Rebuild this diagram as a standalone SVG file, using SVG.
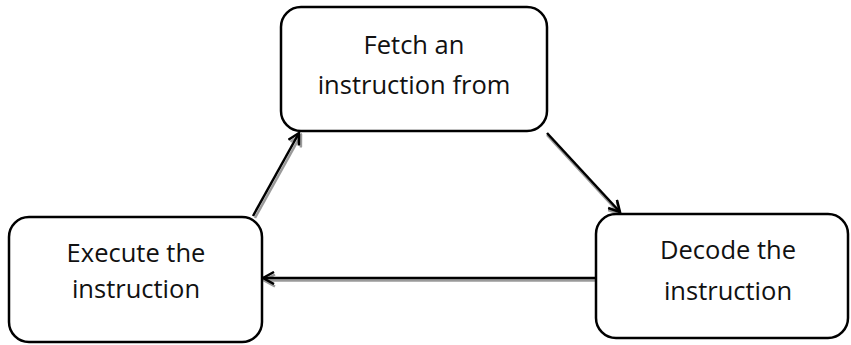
<svg xmlns="http://www.w3.org/2000/svg" width="851" height="345" viewBox="0 0 851 345">
<style>
.box{fill:#fff;stroke:#000;stroke-width:2.5}
.lbl{font-family:"Open Sans","Liberation Sans",sans-serif;font-size:25.5px;fill:#111;text-anchor:middle}
.ln{stroke:#000;stroke-width:2.5;fill:none}
.sh{stroke:#9a9a9a;stroke-width:2.5;fill:none}
</style>
<defs>
<marker id="ah" markerWidth="14" markerHeight="14" refX="12" refY="7" orient="auto" markerUnits="userSpaceOnUse">
<path d="M1,1 L12,7 L1,13" fill="none" stroke="#000" stroke-width="2.5"/>
</marker>
<marker id="ahs" markerWidth="14" markerHeight="14" refX="12" refY="7" orient="auto" markerUnits="userSpaceOnUse">
<path d="M1,1 L12,7 L1,13" fill="none" stroke="#9a9a9a" stroke-width="2.5"/>
</marker>
</defs>
<rect width="851" height="345" fill="#fff"/>
<g id="connectors">
<line class="sh" x1="255" y1="218" x2="301" y2="135" marker-end="url(#ahs)"/>
<line class="ln" x1="253" y1="216" x2="299" y2="133" marker-end="url(#ah)"/>
<line class="sh" x1="547" y1="135" x2="620" y2="214" marker-end="url(#ahs)"/>
<line class="ln" x1="547" y1="133" x2="620" y2="212" marker-end="url(#ah)"/>
<line class="sh" x1="596" y1="280.5" x2="264" y2="280.5" marker-end="url(#ahs)"/>
<line class="ln" x1="596" y1="278" x2="263" y2="278" marker-end="url(#ah)"/>
</g>
<g id="fetch">
<rect class="box" x="281" y="7" width="266" height="124" rx="20"/>
<text class="lbl" x="414" y="54">Fetch an</text>
<text class="lbl" x="414" y="94">instruction from</text>
</g>
<g id="execute">
<rect class="box" x="9" y="217" width="253" height="125" rx="20"/>
<text class="lbl" x="136" y="262">Execute the</text>
<text class="lbl" x="136" y="298">instruction</text>
</g>
<g id="decode">
<rect class="box" x="596" y="214" width="252" height="124" rx="20"/>
<text class="lbl" x="728" y="259">Decode the</text>
<text class="lbl" x="728" y="300">instruction</text>
</g>
</svg>
